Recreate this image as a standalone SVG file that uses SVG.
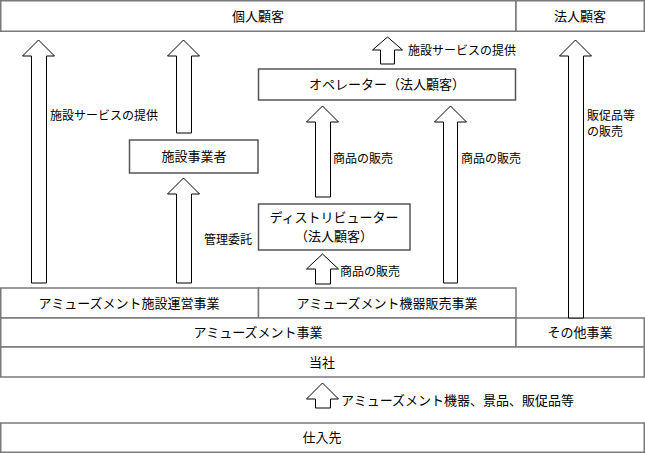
<svg xmlns="http://www.w3.org/2000/svg" width="645" height="453" viewBox="0 0 645 453">
<style>
  .bg{fill:#ffffff}
  .row{fill:#ffffff;stroke:#7a7a7a;stroke-width:1.5}
  .box{fill:#ffffff;stroke:#555555;stroke-width:1.5}
  .arr{fill:#ffffff;stroke:#000000;stroke-width:1}
  text{font-family:"Noto Sans CJK JP","Noto Sans CJK SC",sans-serif;fill:#000000}
  .t{font-size:13px;text-anchor:middle}
  .l{font-size:12px}
</style>
<rect class="bg" x="0" y="0" width="645" height="453"/>

<g id="kojin"><rect class="row" x="0.75" y="0.75" width="515.25" height="30.5"/><text class="t" x="258" y="20.5">個人顧客</text></g>
<g id="hojin"><rect class="row" x="516" y="0.75" width="128.25" height="30.5"/><text class="t" x="580" y="20.5">法人顧客</text></g>

<g id="operator"><rect class="box" x="258.5" y="69" width="257" height="31"/><text class="t" x="387" y="89">オペレーター（法人顧客）</text></g>
<g id="shisetsu"><rect class="box" x="129.5" y="140" width="128.5" height="33"/><text class="t" x="194" y="161">施設事業者</text></g>
<g id="distributor"><rect class="box" x="258.5" y="204" width="151.5" height="46"/><text class="t" x="334" y="222">ディストリビューター</text><text class="t" x="334" y="241">（法人顧客）</text></g>

<g id="unei"><rect class="row" x="0.75" y="288" width="257.75" height="30"/><text class="t" x="129" y="308">アミューズメント施設運営事業</text></g>
<g id="hanbai"><rect class="row" x="258.5" y="288" width="257.5" height="30"/><text class="t" x="387" y="308">アミューズメント機器販売事業</text></g>
<g id="amusement"><rect class="row" x="0.75" y="318" width="515.25" height="29"/><text class="t" x="258" y="337">アミューズメント事業</text></g>
<g id="sonota"><rect class="row" x="516" y="318" width="128.25" height="29"/><text class="t" x="580" y="337">その他事業</text></g>
<g id="tosha"><rect class="row" x="0.75" y="347" width="643.5" height="30"/><text class="t" x="322" y="367">当社</text></g>
<g id="shiiresaki"><rect class="row" x="0.75" y="423" width="643.5" height="29.25"/><text class="t" x="322" y="442">仕入先</text></g>

<g id="connectors">
  <polygon class="arr" points="38.5,40 54.5,56 46.5,56 46.5,283 31.5,283 31.5,56 22.5,56"/>
  <text class="l" x="50" y="120">施設サービスの提供</text>

  <polygon class="arr" points="183.5,40 199.5,56 191.5,56 191.5,133 176.5,133 176.5,56 167.5,56"/>
  <polygon class="arr" points="183.5,178 199.5,194 191.5,194 191.5,283 176.5,283 176.5,194 167.5,194"/>
  <text class="l" x="204" y="244">管理委託</text>

  <polygon class="arr" points="387.5,37 402.5,50 394.5,50 394.5,64 380.5,64 380.5,50 372.5,50"/>
  <text class="l" x="408" y="55">施設サービスの提供</text>

  <polygon class="arr" points="322.5,106 338.5,122 330.5,122 330.5,197 315.5,197 315.5,122 306.5,122"/>
  <text class="l" x="333" y="163">商品の販売</text>

  <polygon class="arr" points="450.5,106 466.5,122 457.5,122 457.5,283 443.5,283 443.5,122 434.5,122"/>
  <text class="l" x="461" y="163">商品の販売</text>

  <polygon class="arr" points="322.5,254 338.5,269 330.5,269 330.5,284 315.5,284 315.5,269 306.5,269"/>
  <text class="l" x="340" y="276">商品の販売</text>

  <polygon class="arr" points="575.5,40 591.5,56 583.5,56 583.5,318 568.5,318 568.5,56 559.5,56"/>
  <text class="l" x="587" y="120">販促品等</text>
  <text class="l" x="587" y="136">の販売</text>

  <polygon class="arr" points="322.5,383 338.5,399 330.5,399 330.5,408 315.5,408 315.5,399 306.5,399"/>
  <text class="t" x="341" y="405" style="text-anchor:start">アミューズメント機器、景品、販促品等</text>
</g>
</svg>
